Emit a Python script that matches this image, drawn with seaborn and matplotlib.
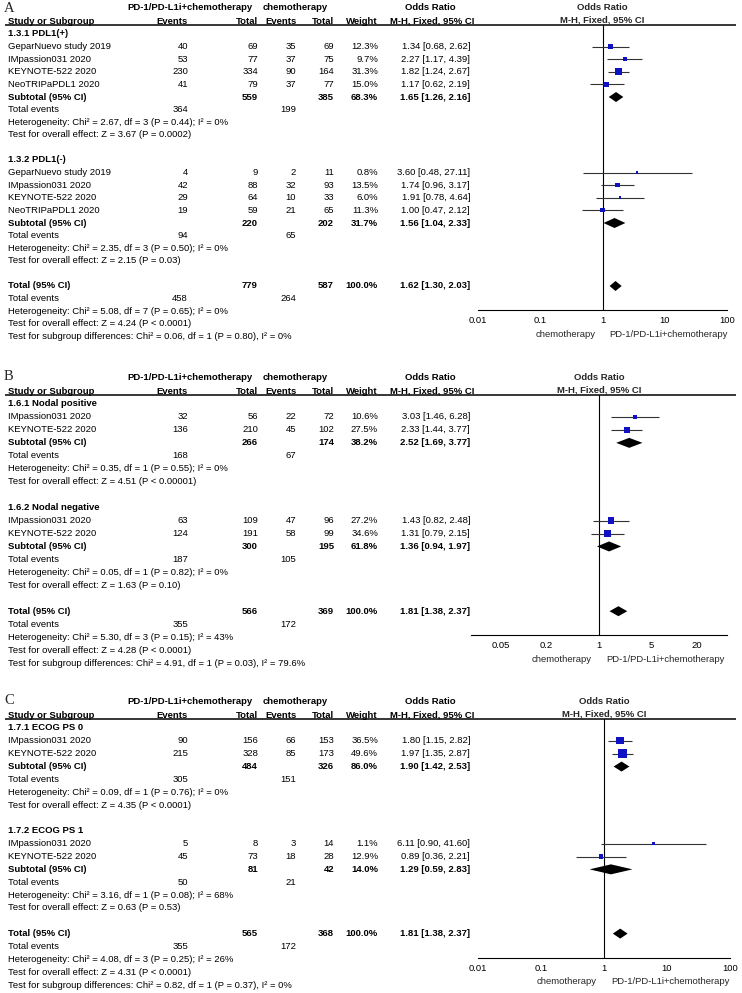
import matplotlib
matplotlib.use("Agg")
import matplotlib.pyplot as plt
from matplotlib.ticker import NullLocator
import seaborn as sns

# ---------------- A: PD-L1 status ----------------
a_groups = ["1.3.1 PDL1(+)", "1.3.2 PDL1(-)"]
a_study = ["GeparNuevo study 2019", "IMpassion031 2020", "KEYNOTE-522 2020", "NeoTRIPaPDL1 2020",
           "GeparNuevo study 2019", "IMpassion031 2020", "KEYNOTE-522 2020", "NeoTRIPaPDL1 2020"]
a_group = [0, 0, 0, 0, 1, 1, 1, 1]
a_exp_ev = [40, 53, 230, 41, 4, 42, 29, 19]
a_exp_n = [69, 77, 334, 79, 9, 88, 64, 59]
a_ctl_ev = [35, 37, 90, 37, 2, 32, 10, 21]
a_ctl_n = [69, 75, 164, 77, 11, 93, 33, 65]
a_weight = [12.3, 9.7, 31.3, 15.0, 0.8, 13.5, 6.0, 11.3]
a_or = [1.34, 2.27, 1.82, 1.17, 3.60, 1.74, 1.91, 1.00]
a_lo = [0.68, 1.17, 1.24, 0.62, 0.48, 0.96, 0.78, 0.47]
a_hi = [2.62, 4.39, 2.67, 2.19, 27.11, 3.17, 4.64, 2.12]
a_sub_exp_n = [559, 220]
a_sub_ctl_n = [385, 202]
a_sub_exp_ev = [364, 94]
a_sub_ctl_ev = [199, 65]
a_sub_weight = [68.3, 31.7]
a_sub_or = [1.65, 1.56]
a_sub_lo = [1.26, 1.04]
a_sub_hi = [2.16, 2.33]
a_sub_het = ["Chi² = 2.67, df = 3 (P = 0.44); I² = 0%", "Chi² = 2.35, df = 3 (P = 0.50); I² = 0%"]
a_sub_z = ["Z = 3.67 (P = 0.0002)", "Z = 2.15 (P = 0.03)"]
a_tot_n = [779, 587]
a_tot_ev = [458, 264]
a_tot_or = [1.62, 1.30, 2.03]
a_tot_het = "Chi² = 5.08, df = 7 (P = 0.65); I² = 0%"
a_tot_z = "Z = 4.24 (P < 0.0001)"
a_diff = "Chi² = 0.06, df = 1 (P = 0.80), I² = 0%"
a_ticks = [0.01, 0.1, 1, 10, 100]
a_tick_labels = ["0.01", "0.1", "1", "10", "100"]

# ---------------- B: nodal status ----------------
b_groups = ["1.6.1 Nodal positive", "1.6.2 Nodal negative"]
b_study = ["IMpassion031 2020", "KEYNOTE-522 2020", "IMpassion031 2020", "KEYNOTE-522 2020"]
b_group = [0, 0, 1, 1]
b_exp_ev = [32, 136, 63, 124]
b_exp_n = [56, 210, 109, 191]
b_ctl_ev = [22, 45, 47, 58]
b_ctl_n = [72, 102, 96, 99]
b_weight = [10.6, 27.5, 27.2, 34.6]
b_or = [3.03, 2.33, 1.43, 1.31]
b_lo = [1.46, 1.44, 0.82, 0.79]
b_hi = [6.28, 3.77, 2.48, 2.15]
b_sub_exp_n = [266, 300]
b_sub_ctl_n = [174, 195]
b_sub_exp_ev = [168, 187]
b_sub_ctl_ev = [67, 105]
b_sub_weight = [38.2, 61.8]
b_sub_or = [2.52, 1.36]
b_sub_lo = [1.69, 0.94]
b_sub_hi = [3.77, 1.97]
b_sub_het = ["Chi² = 0.35, df = 1 (P = 0.55); I² = 0%", "Chi² = 0.05, df = 1 (P = 0.82); I² = 0%"]
b_sub_z = ["Z = 4.51 (P < 0.00001)", "Z = 1.63 (P = 0.10)"]
b_tot_n = [566, 369]
b_tot_ev = [355, 172]
b_tot_or = [1.81, 1.38, 2.37]
b_tot_het = "Chi² = 5.30, df = 3 (P = 0.15); I² = 43%"
b_tot_z = "Z = 4.28 (P < 0.0001)"
b_diff = "Chi² = 4.91, df = 1 (P = 0.03), I² = 79.6%"
b_ticks = [0.05, 0.2, 1, 5, 20]
b_tick_labels = ["0.05", "0.2", "1", "5", "20"]

# ---------------- C: ECOG PS ----------------
c_groups = ["1.7.1 ECOG PS 0", "1.7.2 ECOG PS 1"]
c_study = ["IMpassion031 2020", "KEYNOTE-522 2020", "IMpassion031 2020", "KEYNOTE-522 2020"]
c_group = [0, 0, 1, 1]
c_exp_ev = [90, 215, 5, 45]
c_exp_n = [156, 328, 8, 73]
c_ctl_ev = [66, 85, 3, 18]
c_ctl_n = [153, 173, 14, 28]
c_weight = [36.5, 49.6, 1.1, 12.9]
c_or = [1.80, 1.97, 6.11, 0.89]
c_lo = [1.15, 1.35, 0.90, 0.36]
c_hi = [2.82, 2.87, 41.60, 2.21]
c_sub_exp_n = [484, 81]
c_sub_ctl_n = [326, 42]
c_sub_exp_ev = [305, 50]
c_sub_ctl_ev = [151, 21]
c_sub_weight = [86.0, 14.0]
c_sub_or = [1.90, 1.29]
c_sub_lo = [1.42, 0.59]
c_sub_hi = [2.53, 2.83]
c_sub_het = ["Chi² = 0.09, df = 1 (P = 0.76); I² = 0%", "Chi² = 3.16, df = 1 (P = 0.08); I² = 68%"]
c_sub_z = ["Z = 4.35 (P < 0.0001)", "Z = 0.63 (P = 0.53)"]
c_tot_n = [565, 368]
c_tot_ev = [355, 172]
c_tot_or = [1.81, 1.38, 2.37]
c_tot_het = "Chi² = 4.08, df = 3 (P = 0.25); I² = 26%"
c_tot_z = "Z = 4.31 (P < 0.0001)"
c_diff = "Chi² = 0.82, df = 1 (P = 0.37), I² = 0%"

W, H = 742, 993
FS = 6.8
BLUE = "#1111c4"
GREY = "#333333"

# column right edges (pixels)
X_STUDY, X_EXP_EV, X_EXP_N, X_CTL_EV, X_CTL_N, X_WT, X_OR = 8, 188, 258, 296, 334, 378, 470

panels = [
    dict(letter="A", groups=a_groups, study=a_study, group=a_group, exp_ev=a_exp_ev, exp_n=a_exp_n,
         ctl_ev=a_ctl_ev, ctl_n=a_ctl_n, weight=a_weight, orr=a_or, lo=a_lo, hi=a_hi,
         sub_exp_n=a_sub_exp_n, sub_ctl_n=a_sub_ctl_n, sub_exp_ev=a_sub_exp_ev, sub_ctl_ev=a_sub_ctl_ev,
         sub_weight=a_sub_weight, sub_or=a_sub_or, sub_lo=a_sub_lo, sub_hi=a_sub_hi,
         sub_het=a_sub_het, sub_z=a_sub_z, tot_n=a_tot_n, tot_ev=a_tot_ev, tot_or=a_tot_or,
         tot_het=a_tot_het, tot_z=a_tot_z, diff=a_diff, ticks=a_ticks, tick_labels=a_tick_labels,
         xlim=(0.01, 100), first=34, step=12.6, x0=478, x1=727),
    dict(letter="B", groups=b_groups, study=b_study, group=b_group, exp_ev=b_exp_ev, exp_n=b_exp_n,
         ctl_ev=b_ctl_ev, ctl_n=b_ctl_n, weight=b_weight, orr=b_or, lo=b_lo, hi=b_hi,
         sub_exp_n=b_sub_exp_n, sub_ctl_n=b_sub_ctl_n, sub_exp_ev=b_sub_exp_ev, sub_ctl_ev=b_sub_ctl_ev,
         sub_weight=b_sub_weight, sub_or=b_sub_or, sub_lo=b_sub_lo, sub_hi=b_sub_hi,
         sub_het=b_sub_het, sub_z=b_sub_z, tot_n=b_tot_n, tot_ev=b_tot_ev, tot_or=b_tot_or,
         tot_het=b_tot_het, tot_z=b_tot_z, diff=b_diff, ticks=b_ticks, tick_labels=b_tick_labels,
         xlim=(0.02, 50), first=404, step=12.95, x0=471, x1=727),
    dict(letter="C", groups=c_groups, study=c_study, group=c_group, exp_ev=c_exp_ev, exp_n=c_exp_n,
         ctl_ev=c_ctl_ev, ctl_n=c_ctl_n, weight=c_weight, orr=c_or, lo=c_lo, hi=c_hi,
         sub_exp_n=c_sub_exp_n, sub_ctl_n=c_sub_ctl_n, sub_exp_ev=c_sub_exp_ev, sub_ctl_ev=c_sub_ctl_ev,
         sub_weight=c_sub_weight, sub_or=c_sub_or, sub_lo=c_sub_lo, sub_hi=c_sub_hi,
         sub_het=c_sub_het, sub_z=c_sub_z, tot_n=c_tot_n, tot_ev=c_tot_ev, tot_or=c_tot_or,
         tot_het=c_tot_het, tot_z=c_tot_z, diff=c_diff, ticks=a_ticks, tick_labels=a_tick_labels,
         xlim=(0.01, 100), first=728, step=12.85, x0=478, x1=730),
]


def or_text(o, lo, hi):
    return f"{o:.2f} [{lo:.2f}, {hi:.2f}]"


def draw_panel(fig, ax_t, d):
    def put(x, y, s, ha="left", bold=False):
        ax_t.text(x, y, s, ha=ha, va="center", fontsize=FS,
                  fontweight="bold" if bold else "normal", color="black")

    step = d["step"]
    first = d["first"]
    h1 = first - 26
    h2 = first - 13
    line_y = first - 9.5

    # header
    ax_t.text(4, max(h1 - 8.5, 1.5), d["letter"], family="Liberation Serif", fontsize=10.5,
              ha="left", va="top")
    put(190, h1, "PD-1/PD-L1i+chemotherapy", "center", True)
    put(295, h1, "chemotherapy", "center", True)
    put(430, h1, "Odds Ratio", "center", True)
    put(X_STUDY, h2, "Study or Subgroup", bold=True)
    put(X_EXP_EV, h2, "Events", "right", True)
    put(X_EXP_N, h2, "Total", "right", True)
    put(X_CTL_EV + 1, h2, "Events", "right", True)
    put(X_CTL_N, h2, "Total", "right", True)
    put(X_WT, h2, "Weight", "right", True)
    put(432, h2, "M-H, Fixed, 95% CI", "center", True)
    ax_t.plot([5, 736], [line_y, line_y], color="black", lw=1.1, solid_capstyle="butt")

    study_y, sub_y = [], []
    y = first
    for g, name in enumerate(d["groups"]):
        put(X_STUDY, y, name, bold=True)
        y += step
        for i, gg in enumerate(d["group"]):
            if gg != g:
                continue
            put(X_STUDY, y, d["study"][i])
            put(X_EXP_EV, y, str(d["exp_ev"][i]), "right")
            put(X_EXP_N, y, str(d["exp_n"][i]), "right")
            put(X_CTL_EV, y, str(d["ctl_ev"][i]), "right")
            put(X_CTL_N, y, str(d["ctl_n"][i]), "right")
            put(X_WT, y, f"{d['weight'][i]:.1f}%", "right")
            put(X_OR, y, or_text(d["orr"][i], d["lo"][i], d["hi"][i]), "right")
            study_y.append(y)
            y += step
        put(X_STUDY, y, "Subtotal (95% CI)", bold=True)
        put(X_EXP_N, y, str(d["sub_exp_n"][g]), "right", True)
        put(X_CTL_N, y, str(d["sub_ctl_n"][g]), "right", True)
        put(X_WT, y, f"{d['sub_weight'][g]:.1f}%", "right", True)
        put(X_OR, y, or_text(d["sub_or"][g], d["sub_lo"][g], d["sub_hi"][g]), "right", True)
        sub_y.append(y)
        y += step
        put(X_STUDY, y, "Total events")
        put(X_EXP_EV, y, str(d["sub_exp_ev"][g]), "right")
        put(X_CTL_EV, y, str(d["sub_ctl_ev"][g]), "right")
        y += step
        put(X_STUDY, y, "Heterogeneity: " + d["sub_het"][g])
        y += step
        put(X_STUDY, y, "Test for overall effect: " + d["sub_z"][g])
        y += 2 * step

    tot_y = y
    put(X_STUDY, y, "Total (95% CI)", bold=True)
    put(X_EXP_N, y, str(d["tot_n"][0]), "right", True)
    put(X_CTL_N, y, str(d["tot_n"][1]), "right", True)
    put(X_WT, y, "100.0%", "right", True)
    put(X_OR, y, or_text(*d["tot_or"]), "right", True)
    y += step
    put(X_STUDY, y, "Total events")
    put(X_EXP_EV, y, str(d["tot_ev"][0]), "right")
    put(X_CTL_EV, y, str(d["tot_ev"][1]), "right")
    y += step
    put(X_STUDY, y, "Heterogeneity: " + d["tot_het"])
    y += step
    put(X_STUDY, y, "Test for overall effect: " + d["tot_z"])
    y += step
    put(X_STUDY, y, "Test for subgroup differences: " + d["diff"])

    # forest area, y in the same pixel units as the text layer
    axis_y = tot_y + 24
    x0, x1 = d["x0"], d["x1"]
    ax = fig.add_axes([x0 / W, 1 - axis_y / H, (x1 - x0) / W, (axis_y - line_y) / H])
    ax.set_xscale("log")
    ax.patch.set_alpha(0)

    ax.hlines(study_y, d["lo"], d["hi"], color=GREY, lw=0.8, zorder=2)
    side = [max(2.6, 1.2 * w ** 0.5) * 0.72 for w in d["weight"]]
    sns.scatterplot(x=d["orr"], y=study_y, marker="s", s=[v ** 2 for v in side], color=BLUE,
                    linewidth=0, ax=ax, legend=False, zorder=3)
    diamonds = list(zip(d["sub_or"], d["sub_lo"], d["sub_hi"], sub_y)) + [tuple(d["tot_or"]) + (tot_y,)]
    for o, lo, hi, yy in diamonds:
        ax.fill([lo, o, hi, o], [yy, yy - 5, yy, yy + 5], color="black", lw=0, zorder=3)
    ax.axvline(1, color="black", lw=0.8, zorder=1)

    ax.set_xlim(*d["xlim"])
    ax.set_ylim(axis_y, line_y)
    ax.set_xticks(d["ticks"])
    ax.set_xticklabels(d["tick_labels"])
    ax.xaxis.set_minor_locator(NullLocator())
    ax.set_yticks([])
    ax.set_xlabel("")
    ax.set_ylabel("")
    for s in ["top", "left", "right"]:
        ax.spines[s].set_visible(False)
    ax.spines["bottom"].set_linewidth(0.8)
    ax.spines["bottom"].set_color("black")
    ax.tick_params(axis="x", direction="inout", length=6, width=0.8, labelsize=FS, pad=1.5,
                   colors="black")

    ax.annotate("Odds Ratio", xy=(1, 1), xycoords=("data", "axes fraction"), xytext=(0, 11.9),
                textcoords="offset points", ha="center", va="center", fontsize=FS, fontweight="bold")
    ax.annotate("M-H, Fixed, 95% CI", xy=(1, 1), xycoords=("data", "axes fraction"), xytext=(0, 2.9),
                textcoords="offset points", ha="center", va="center", fontsize=FS, fontweight="bold")
    ax.annotate("chemotherapy", xy=(1, 0), xycoords=("data", "axes fraction"), xytext=(-5, -17.5),
                textcoords="offset points", ha="right", va="center", fontsize=FS)
    ax.annotate("PD-1/PD-L1i+chemotherapy", xy=(1, 0), xycoords=("data", "axes fraction"),
                xytext=(5, -17.5), textcoords="offset points", ha="left", va="center", fontsize=FS)


sns.set_theme(style="white")
plt.rcParams["font.family"] = ["Liberation Sans", "DejaVu Sans"]

fig = plt.figure(figsize=(W / 100, H / 100), dpi=100)
ax_t = fig.add_axes([0, 0, 1, 1])
ax_t.set_xlim(0, W)
ax_t.set_ylim(H, 0)
ax_t.axis("off")

for p in panels:
    draw_panel(fig, ax_t, p)

fig.savefig("out.png", dpi=100, facecolor="white")
